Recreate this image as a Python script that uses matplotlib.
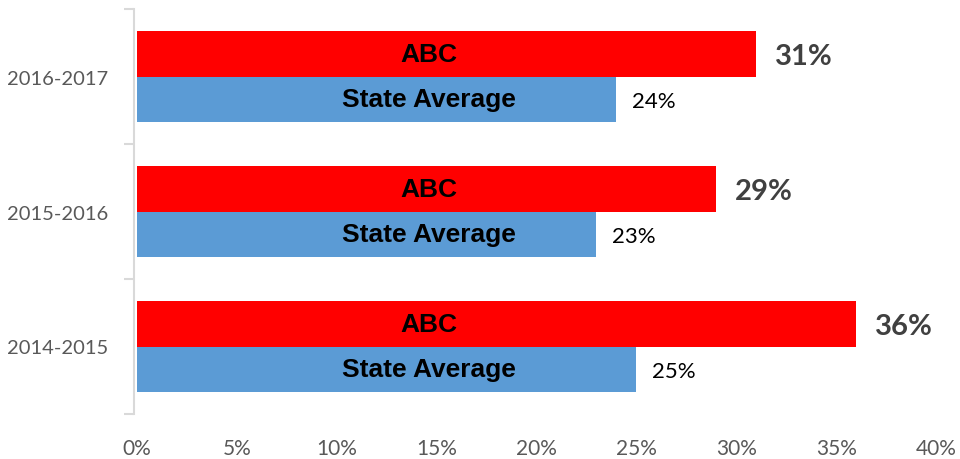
import numpy as np
import matplotlib
matplotlib.use("Agg")
import matplotlib.pyplot as plt
from matplotlib.ticker import FixedLocator, PercentFormatter

years = ["2014-2015", "2015-2016", "2016-2017"]
abc = [36, 29, 31]
state = [25, 23, 24]
series_names = ["ABC", "State Average"]
x_ticks = [0, 5, 10, 15, 20, 25, 30, 35, 40]

fig = plt.figure(figsize=(9.6, 4.6), dpi=100)
ax = fig.add_axes([137 / 960, 1 - 415 / 460, (936 - 137) / 960, 405 / 460])

y = np.arange(len(years))
h = 0.337
ax.barh(y + h / 2, abc, height=h, color="#FF0000")
ax.barh(y - h / 2, state, height=h, color="#5B9BD5")

for i in y:
    ax.text(14.6, i + h / 2, series_names[0], ha="center", va="center",
            fontsize=19, fontweight="bold", family="Liberation Sans", color="black")
    ax.text(14.6, i - h / 2, series_names[1], ha="center", va="center",
            fontsize=19, fontweight="bold", family="Liberation Sans", color="black")
    ax.text(abc[i] + 0.95, i + h / 2, f"{abc[i]}%", ha="left", va="center_baseline",
            fontsize=21, fontweight="bold", family="Lato", color="#404040")
    ax.text(state[i] + 0.8, i - h / 2, f"{state[i]}%", ha="left", va="center_baseline",
            fontsize=16, family="Lato", color="black")

ax.set_xlim(0, 40)
ax.set_ylim(-0.5, 2.5)
ax.xaxis.set_major_locator(FixedLocator(x_ticks))
ax.xaxis.set_major_formatter(PercentFormatter(decimals=0))
ax.set_yticks(y)
ax.set_yticklabels(years)
ax.yaxis.set_minor_locator(FixedLocator([-0.5, 0.5, 1.5, 2.5]))

for s in ["top", "right", "bottom"]:
    ax.spines[s].set_visible(False)
ax.spines["left"].set_color("#D9D9D9")
ax.spines["left"].set_linewidth(1.5)
ax.spines["left"].set_position(("outward", 2))

ax.tick_params(axis="y", which="major", length=0, pad=19, labelsize=14.5, labelcolor="#595959")
ax.tick_params(axis="y", which="minor", length=7, width=1.5, color="#D9D9D9")
ax.tick_params(axis="x", length=0, pad=17, labelsize=15, labelcolor="#595959")
for lab in ax.get_xticklabels() + ax.get_yticklabels():
    lab.set_family("Lato")

fig.savefig("out.png", dpi=100)
